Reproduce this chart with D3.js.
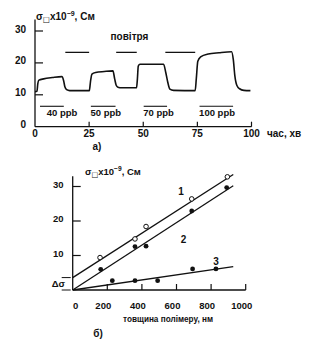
<!DOCTYPE html>
<html><head><meta charset="utf-8">
<script src="https://cdn.jsdelivr.net/npm/d3@7/dist/d3.min.js"></script>
<style>
html,body{margin:0;padding:0;background:#fff;}
svg text{font-family:"Liberation Sans",Arial,sans-serif;font-weight:bold;fill:#111;}
</style></head>
<body><svg id="c" width="324" height="344"></svg>
<script>
// ---------- data: panel a) ----------
const timeMin = [0,0.9,1.3,1.8,4,8,12.4,13.2,13.8,14.6,16,25.1,25.6,26.3,28,32,36,36.8,37.5,38.3,40,46.9,47.3,47.7,48.5,54,59.4,60.4,61.3,62.3,64,74,74.5,75.2,76.5,80,85,90.8,91.6,92.3,93.2,94.5,96.5,99.5];
const sigmaA  = [11.0,11.1,13.5,14.6,15.0,15.4,15.7,14.5,12.5,11.6,11.3,11.3,14.0,16.5,17.0,17.3,17.5,15.0,13.0,12.4,12.2,12.2,15.0,19.0,19.6,19.6,19.6,17.0,14.0,11.8,11.4,11.3,15.0,20.5,21.9,22.8,23.2,23.5,21.0,16.0,13.0,11.9,11.4,11.3];
const airStart = [14,37.5,60.2];
const airEnd   = [25,47,74];
const airLevel = 23.3;
const gasStart = [2.3,25.8,50.2,76];
const gasEnd   = [13.3,37.2,61,91.5];
const gasLevel = 6.4;
const gasLabels = ["40 ppb","50 ppb","70 ppb","100 ppb"];
const gasLabelT = [5.4,25.6,50,75.8];
const xTicksA = [0,25,50,75,100];
const yTicksA = [0,10,20,30];

// ---------- data: panel б) ----------
const thick1 = [158,360,424,688,894];
const sig1   = [9.4,14.8,18.4,26.4,32.8];
const thick2 = [162,360,424,688,890];
const sig2   = [6.0,12.6,12.7,22.9,29.7];
const thick3 = [229,360,491,693,828];
const sig3   = [2.7,2.7,2.7,6.1,6.1];
const fitX   = [0,928];
const fit1   = [3.6,33.5];
const fit2   = [0,30.2];
const fit3   = [0,6.75];
const deltaSigma = 3.6;
const xTicksB = [0,200,400,600,800,1000];
const yTicksB = [10,20,30];

const svg = d3.select("#c");

function yLabel(g, x, y, fs){
  const t = g.append("text").attr("x",x).attr("y",y).attr("font-size",fs);
  t.append("tspan").text("σ");
  t.append("tspan").attr("font-size",fs*0.75).attr("dy",2).style("font-family","DejaVu Sans").text("□");
  t.append("tspan").attr("dy",-2).text("x10");
  t.append("tspan").attr("font-size",fs*0.7).attr("dy",-4).text("−9");
  t.append("tspan").attr("dy",4).text(", См");
}

// ===== panel a =====
const xA = d3.scaleLinear().domain([0,100]).range([35,251.5]);
const yA = d3.scaleLinear().domain([0,30]).range([126.7,31]);
const gA = svg.append("g");

gA.append("line").attr("x1",xA(0)).attr("x2",xA(0)).attr("y1",yA(0)).attr("y2",yA(33.6)).attr("stroke","#111").attr("stroke-width",1.3);
gA.append("line").attr("x1",xA(0)).attr("x2",xA(100)).attr("y1",yA(0)).attr("y2",yA(0)).attr("stroke","#111").attr("stroke-width",1.3);
gA.selectAll(".yt").data(yTicksA.filter(d=>d>0)).join("line")
  .attr("x1",xA(0)).attr("x2",xA(0)+8).attr("y1",d=>yA(d)).attr("y2",d=>yA(d)).attr("stroke","#111").attr("stroke-width",1.2);
gA.selectAll(".yl").data(yTicksA).join("text")
  .attr("x",26).attr("y",d=>yA(d)-2).attr("dy","0.35em").attr("text-anchor","end").attr("font-size",10).text(d=>d);
gA.selectAll(".xt").data(xTicksA.filter(d=>d>0)).join("line")
  .attr("x1",d=>xA(d)).attr("x2",d=>xA(d)).attr("y1",yA(0)).attr("y2",yA(0)-5).attr("stroke","#111").attr("stroke-width",1.2);
gA.selectAll(".xl").data(xTicksA).join("text")
  .attr("x",d=>xA(d)).attr("y",yA(0)+10).attr("text-anchor","middle").attr("font-size",10).text(d=>d);
gA.append("text").attr("x",267).attr("y",yA(0)+10).attr("font-size",10).text("час, хв");

yLabel(gA, 36, 20, 10);

const lineA = d3.line().x((d,i)=>xA(timeMin[i])).y(d=>yA(d)).curve(d3.curveMonotoneX);
gA.append("path").attr("d",lineA(sigmaA)).attr("fill","none").attr("stroke","#111").attr("stroke-width",1.6);

gA.selectAll(".air").data(airStart).join("line")
  .attr("x1",d=>xA(d)).attr("x2",(d,i)=>xA(airEnd[i])).attr("y1",yA(airLevel)).attr("y2",yA(airLevel)).attr("stroke","#111").attr("stroke-width",1.3);
gA.append("text").attr("x",(xA(airStart[1])+xA(airEnd[1]))/2+3).attr("y",yA(airLevel)-12).attr("text-anchor","middle").attr("font-size",10).text("повітря");
gA.selectAll(".gas").data(gasStart).join("line")
  .attr("x1",d=>xA(d)).attr("x2",(d,i)=>xA(gasEnd[i])).attr("y1",yA(gasLevel)).attr("y2",yA(gasLevel)).attr("stroke","#111").attr("stroke-width",1.1);
gA.selectAll(".gl").data(gasLabels).join("text")
  .attr("x",(d,i)=>xA(gasLabelT[i])).attr("y",yA(gasLevel)+10).attr("font-size",9.5).text(d=>d);
gA.append("text").attr("x",97).attr("y",150).attr("text-anchor","middle").attr("font-size",10).text("а)");

// ===== panel б =====
const xB = d3.scaleLinear().domain([0,1000]).range([72.7,245.7]);
const yB = d3.scaleLinear().domain([0,30]).range([290,186.5]);
const gB = svg.append("g");

gB.append("line").attr("x1",xB(0)).attr("x2",xB(0)).attr("y1",yB(0)).attr("y2",yB(33)).attr("stroke","#111").attr("stroke-width",1.3);
gB.append("line").attr("x1",xB(0)).attr("x2",xB(1000)).attr("y1",yB(0)).attr("y2",yB(0)).attr("stroke","#111").attr("stroke-width",1.3);
gB.selectAll(".yt").data(yTicksB).join("line")
  .attr("x1",xB(0)).attr("x2",xB(0)+8).attr("y1",d=>yB(d)).attr("y2",d=>yB(d)).attr("stroke","#111").attr("stroke-width",1.2);
gB.selectAll(".yl").data(yTicksB).join("text")
  .attr("x",63.5).attr("y",d=>yB(d)-2).attr("dy","0.35em").attr("text-anchor","end").attr("font-size",9.5).text(d=>d);
gB.selectAll(".xt").data(xTicksB.filter(d=>d>0)).join("line")
  .attr("x1",d=>xB(d)).attr("x2",d=>xB(d)).attr("y1",yB(0)).attr("y2",yB(0)-6).attr("stroke","#111").attr("stroke-width",1.2);
gB.selectAll(".xl").data(xTicksB).join("text")
  .attr("x",d=>xB(d)+(d===0?3:-4)).attr("y",yB(0)+18.5).attr("text-anchor","middle").attr("font-size",9.5).text(d=>d);
gB.append("text").attr("x",123).attr("y",321.5).attr("font-size",9)
  .attr("textLength",90).attr("lengthAdjust","spacingAndGlyphs").text("товщина полімеру, нм");
gB.append("text").attr("x",98).attr("y",337).attr("text-anchor","middle").attr("font-size",10).text("б)");

yLabel(gB, 85, 175, 9.5);

// delta sigma marker
gB.selectAll(".ds").data([deltaSigma,0]).join("line")
  .attr("x1",xB(0)-11).attr("x2",xB(0)-2).attr("y1",d=>yB(d)).attr("y2",d=>yB(d)).attr("stroke","#111").attr("stroke-width",1);
gB.append("text").attr("x",65).attr("y",yB(deltaSigma/2)+3).attr("text-anchor","end").attr("font-size",9.5).attr("font-weight","normal").text("Δσ");

const lineB = d3.line().x((d,i)=>xB(fitX[i])).y(d=>yB(d));
[fit1,fit2,fit3].forEach(f=>{
  gB.append("path").attr("d",lineB(f)).attr("fill","none").attr("stroke","#111").attr("stroke-width",1.3);
});
gB.selectAll(".p1").data(thick1).join("circle")
  .attr("cx",d=>xB(d)).attr("cy",(d,i)=>yB(sig1[i])).attr("r",2.3).attr("fill","#fff").attr("stroke","#111").attr("stroke-width",1);
gB.selectAll(".p2").data(thick2).join("circle")
  .attr("cx",d=>xB(d)).attr("cy",(d,i)=>yB(sig2[i])).attr("r",2.4).attr("fill","#111");
gB.selectAll(".p3").data(thick3).join("circle")
  .attr("cx",d=>xB(d)).attr("cy",(d,i)=>yB(sig3[i])).attr("r",2.4).attr("fill","#111");
gB.append("text").attr("x",181).attr("y",195).attr("text-anchor","middle").attr("font-size",10).text("1");
gB.append("text").attr("x",183.5).attr("y",242.5).attr("text-anchor","middle").attr("font-size",10).text("2");
gB.append("text").attr("x",216).attr("y",265).attr("text-anchor","middle").attr("font-size",10).text("3");
</script></body></html>
